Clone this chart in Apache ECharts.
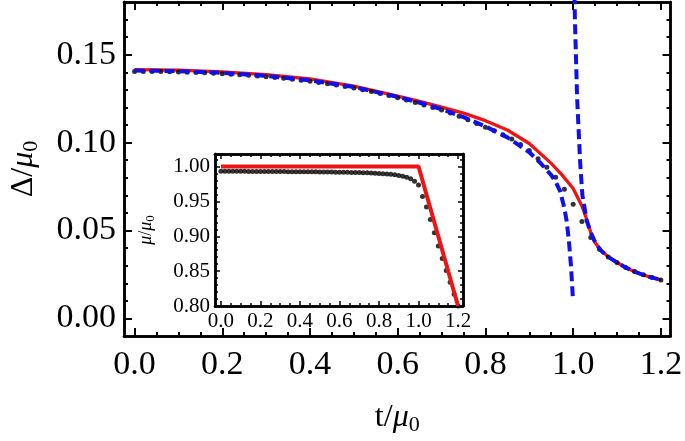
<!DOCTYPE html>
<html>
<head>
<meta charset="utf-8">
<script src="https://cdn.jsdelivr.net/npm/echarts@6/dist/echarts.min.js"></script>
<style>
  html, body { margin: 0; padding: 0; background: #fff; }
  #chart { width: 685px; height: 441px; }
</style>
</head>
<body>
<div id="chart"></div>
<script>
// main panel: gap vs temperature
const redT = [0, 0.1, 0.2, 0.3, 0.4, 0.5, 0.6, 0.65, 0.7, 0.75, 0.8, 0.85, 0.9, 0.95, 0.975, 1.0, 1.02, 1.03, 1.04, 1.05, 1.06, 1.08, 1.1, 1.12, 1.14, 1.16, 1.18, 1.2];
const redGap = [0.1415, 0.1412, 0.1403, 0.1387, 0.1362, 0.1322, 0.1265, 0.1235, 0.1202, 0.1168, 0.1125, 0.1072, 0.0995, 0.0882, 0.0815, 0.0739, 0.0640, 0.0570, 0.0490, 0.0432, 0.0397, 0.0350, 0.0318, 0.0289, 0.0266, 0.0247, 0.0232, 0.0220];

const blueLoT = [0, 0.1, 0.2, 0.3, 0.4, 0.5, 0.6, 0.65, 0.7, 0.75, 0.8, 0.85, 0.9, 0.925, 0.95, 0.96, 0.97, 0.98, 0.985, 0.99, 0.995, 0.9995];
const blueLoGap = [0.1410, 0.1407, 0.1397, 0.1380, 0.1354, 0.1316, 0.1260, 0.1227, 0.1190, 0.1145, 0.1092, 0.1030, 0.0945, 0.0885, 0.0815, 0.0778, 0.0725, 0.0628, 0.0555, 0.0450, 0.0300, 0.0110];

const blueHiT = [1.0015, 1.004, 1.009, 1.016, 1.021, 1.031, 1.04, 1.048, 1.062, 1.08, 1.1, 1.12, 1.14, 1.16, 1.18, 1.2];
const blueHiGap = [0.21, 0.17, 0.1254, 0.0885, 0.0702, 0.0555, 0.0490, 0.0444, 0.0389, 0.0350, 0.0318, 0.0289, 0.0266, 0.0247, 0.0232, 0.0220];

const dotT = [
  0.00, 0.02, 0.04, 0.06, 0.08, 0.10, 0.12, 0.14, 0.16, 0.18,
  0.20, 0.22, 0.24, 0.26, 0.28, 0.30, 0.32, 0.34, 0.36, 0.38,
  0.40, 0.42, 0.44, 0.46, 0.48, 0.50, 0.52, 0.54, 0.56, 0.58,
  0.60, 0.62, 0.64, 0.66, 0.68, 0.70, 0.72, 0.74, 0.76, 0.78,
  0.80, 0.82, 0.84, 0.86, 0.88, 0.90, 0.92, 0.94, 0.96, 0.98,
  1.00, 1.02, 1.04, 1.06, 1.08, 1.10, 1.12, 1.14, 1.16, 1.18,
  1.20
];
const dotGap = [
  0.1405, 0.1405, 0.1404, 0.1404, 0.1403, 0.1402, 0.1400, 0.1399, 0.1397, 0.1395,
  0.1392, 0.1389, 0.1386, 0.1383, 0.1379, 0.1375, 0.1371, 0.1366, 0.1361, 0.1355,
  0.1349, 0.1342, 0.1335, 0.1328, 0.1320, 0.1311, 0.1301, 0.1291, 0.1280, 0.1268,
  0.1255, 0.1242, 0.1228, 0.1214, 0.1200, 0.1185, 0.1168, 0.1150, 0.1130, 0.1109,
  0.1087, 0.1068, 0.1045, 0.1020, 0.0990, 0.0955, 0.0908, 0.0860, 0.0803, 0.0735,
  0.0650, 0.0552, 0.0460, 0.0393, 0.0350, 0.0318, 0.0290, 0.0267, 0.0248, 0.0233,
  0.0219
];

// inset: chemical potential
const insetRedT = [0, 1.0, 1.2];
const insetRedMu = [1.0, 1.0, 0.8];
const insetDotMu = [
  0.9932, 0.9932, 0.9932, 0.9931, 0.9931, 0.9931, 0.9931, 0.9930, 0.9930, 0.9930,
  0.9930, 0.9929, 0.9929, 0.9929, 0.9928, 0.9928, 0.9928, 0.9927, 0.9927, 0.9926,
  0.9926, 0.9925, 0.9925, 0.9924, 0.9924, 0.9923, 0.9922, 0.9922, 0.9921, 0.9920,
  0.9919, 0.9918, 0.9917, 0.9916, 0.9915, 0.9913, 0.9912, 0.9910, 0.9908, 0.9905,
  0.9902, 0.9898, 0.9894, 0.9888, 0.9881, 0.9871, 0.9862, 0.9845, 0.9825, 0.9790,
  0.9735, 0.9570, 0.9420, 0.9240, 0.9050, 0.8860, 0.8680, 0.8510, 0.8340, 0.8170,
  0.8000
];

// ticks
const mainXTicks = [0, 0.2, 0.4, 0.6, 0.8, 1.0, 1.2];
const mainXMinor = [0.05, 0.1, 0.15, 0.25, 0.3, 0.35, 0.45, 0.5, 0.55, 0.65, 0.7, 0.75, 0.85, 0.9, 0.95, 1.05, 1.1, 1.15];
const mainYTicks = [0, 0.05, 0.1, 0.15];
const mainYMinor = [0.01, 0.02, 0.03, 0.04, 0.06, 0.07, 0.08, 0.09, 0.11, 0.12, 0.13, 0.14, 0.16, 0.17];
const insetXTicks = [0, 0.2, 0.4, 0.6, 0.8, 1.0, 1.2];
const insetXMinor = [0.05, 0.1, 0.15, 0.25, 0.3, 0.35, 0.45, 0.5, 0.55, 0.65, 0.7, 0.75, 0.85, 0.9, 0.95, 1.05, 1.1, 1.15];
const insetYTicks = [0.8, 0.85, 0.9, 0.95, 1.0];
const insetYMinor = [0.81, 0.82, 0.83, 0.84, 0.86, 0.87, 0.88, 0.89, 0.91, 0.92, 0.93, 0.94, 0.96, 0.97, 0.98, 0.99, 1.01];

const zip = (xs, ys) => xs.map((x, i) => [x, ys[i]]);
const FONT = 'Liberation Serif';

// four-sided framed axes with inward major/minor ticks
function frameAxes(grid, xr, yr, xt, xm, yt, ym, s) {
  const line = { show: true, onZero: false, lineStyle: { color: '#000', width: s.lw } };
  const tick = (vals, len) => ({ show: true, inside: true, length: len, customValues: vals, lineStyle: { color: '#000', width: s.tw } });
  const noLabel = { show: false };
  const base = { type: 'value', gridIndex: grid, splitLine: { show: false } };
  const xs = [
    Object.assign({}, base, { min: xr[0], max: xr[1], position: 'bottom', axisLine: line, axisTick: tick(xt, s.maj),
      axisLabel: { show: true, customValues: xt, formatter: v => v.toFixed(1), fontFamily: FONT, fontSize: s.fs, color: '#000', margin: s.xm },
      name: s.xName || '', nameLocation: 'middle', nameGap: s.xGap || 0, nameTextStyle: s.nameStyle }),
    Object.assign({}, base, { min: xr[0], max: xr[1], position: 'bottom', axisLine: line, axisTick: tick(xm, s.min), axisLabel: noLabel }),
    Object.assign({}, base, { min: xr[0], max: xr[1], position: 'top', axisLine: line, axisTick: tick(xt, s.maj), axisLabel: noLabel }),
    Object.assign({}, base, { min: xr[0], max: xr[1], position: 'top', axisLine: line, axisTick: tick(xm, s.min), axisLabel: noLabel })
  ];
  const ys = [
    Object.assign({}, base, { min: yr[0], max: yr[1], position: 'left', axisLine: line, axisTick: tick(yt, s.maj),
      axisLabel: { show: true, customValues: yt, formatter: v => v.toFixed(2), fontFamily: FONT, fontSize: s.fs, color: '#000', margin: s.ym },
      name: s.yName, nameLocation: 'middle', nameGap: s.yGap, nameRotate: 90, nameTextStyle: s.yNameStyle }),
    Object.assign({}, base, { min: yr[0], max: yr[1], position: 'left', axisLine: line, axisTick: tick(ym, s.min), axisLabel: noLabel }),
    Object.assign({}, base, { min: yr[0], max: yr[1], position: 'right', axisLine: line, axisTick: tick(yt, s.maj), axisLabel: noLabel }),
    Object.assign({}, base, { min: yr[0], max: yr[1], position: 'right', axisLine: line, axisTick: tick(ym, s.min), axisLabel: noLabel })
  ];
  return { xs, ys };
}

function richName(size, subSize, subPad) {
  return {
    fontFamily: FONT, fontSize: size, color: '#000',
    rich: {
      r: { fontFamily: FONT, fontSize: size, color: '#000' },
      i: { fontFamily: FONT, fontSize: size, fontStyle: 'italic', color: '#000' },
      s: { fontFamily: FONT, fontSize: subSize, color: '#000', padding: [subPad, 0, 0, 0] }
    }
  };
}

const mainAx = frameAxes(0, [-0.024, 1.222], [-0.01, 0.18], mainXTicks, mainXMinor, mainYTicks, mainYMinor, {
  lw: 2.5, tw: 2, maj: 8, min: 4, fs: 34, xm: 12, ym: 8,
  xName: '{r|t/}{i|μ}{s|0}', xGap: 64, nameStyle: richName(32, 22, 14),
  yName: '{r|Δ/}{i|μ}{s|0}', yGap: 82, yNameStyle: richName(32, 22, 14)
});
const insetAx = frameAxes(1, [-0.03, 1.225], [0.8, 1.018], insetXTicks, insetXMinor, insetYTicks, insetYMinor, {
  lw: 2.5, tw: 1.5, maj: 5, min: 3, fs: 21, xm: 5, ym: 5,
  yName: '{i|μ}{r|/}{i|μ}{s|0}', yGap: 58, yNameStyle: richName(18, 13, 8)
});

const chart = echarts.init(document.getElementById('chart'), null, { renderer: 'canvas' });
chart.setOption({
  backgroundColor: '#fff',
  animation: false,
  grid: [
    { left: 116, top: 2, right: 12, bottom: 95 },
    { left: 215, top: 154, width: 248, height: 152, show: true, backgroundColor: '#fff', borderWidth: 0 }
  ],
  xAxis: mainAx.xs.concat(insetAx.xs),
  yAxis: mainAx.ys.concat(insetAx.ys),
  series: [
    { type: 'line', xAxisIndex: 0, yAxisIndex: 0, data: zip(redT, redGap), showSymbol: false,
      lineStyle: { color: '#ee1414', width: 3.3 }, z: 2 },
    { type: 'scatter', xAxisIndex: 0, yAxisIndex: 0, data: zip(dotT, dotGap), symbolSize: 5,
      itemStyle: { color: '#000' }, z: 3 },
    { type: 'line', xAxisIndex: 0, yAxisIndex: 0, data: zip(blueLoT, blueLoGap), showSymbol: false,
      lineStyle: { color: '#1010ee', width: 4, type: [10, 5] }, z: 4 },
    { type: 'line', xAxisIndex: 0, yAxisIndex: 0, data: zip(blueHiT, blueHiGap), showSymbol: false,
      lineStyle: { color: '#1010ee', width: 4, type: [10, 5] }, z: 4 },
    { type: 'scatter', xAxisIndex: 4, yAxisIndex: 4, data: zip(dotT, insetDotMu), symbolSize: 5,
      itemStyle: { color: '#000' }, z: 5 },
    { type: 'line', xAxisIndex: 4, yAxisIndex: 4, data: zip(insetRedT, insetRedMu), showSymbol: false,
      lineStyle: { color: '#ee1414', width: 4 }, z: 6 }
  ]
});
window.addEventListener('resize', () => chart.resize());
</script>
</body>
</html>
